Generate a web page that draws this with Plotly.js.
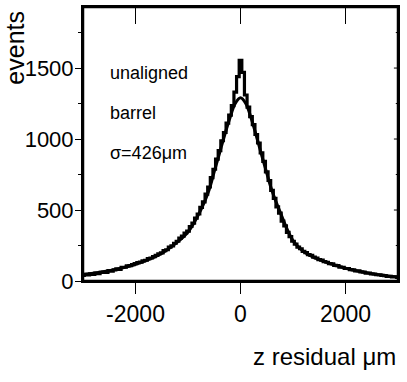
<!DOCTYPE html>
<html>
<head>
<meta charset="utf-8">
<script src="https://cdn.plot.ly/plotly-3.0.1.min.js"></script>
<style>
  html, body { margin: 0; padding: 0; background: #ffffff; }
  #plot { width: 407px; height: 382px; }
</style>
</head>
<body>
<div id="plot"></div>
<script>
// z residual histogram, 50 um bins from -3000 to 3000
const binStart = -3000;
const binWidth = 50;
const histCounts = [
    40, 47, 43, 51, 47, 56, 52, 61, 63, 60, 73, 69, 79, 85, 81, 96, 97, 106, 109, 116, 123,
    130, 133, 142, 146, 158, 162, 172, 180, 192, 198, 214, 220, 238, 248, 266, 280, 302, 316, 338, 352,
    384, 408, 443, 472, 518, 557, 612, 662, 728, 787, 858, 918, 988, 1046, 1112, 1168, 1236, 1330, 1440,
    1555,
    1470, 1310, 1225, 1158, 1102, 1032, 972, 902, 842, 768, 708, 638, 582, 522, 478, 422, 388, 342, 312,
    280, 260, 238, 227, 208, 200, 186, 180, 168, 162, 150, 147, 136, 132, 122, 120, 110, 108, 98, 97, 88,
    88, 80, 79, 72, 71, 64, 63, 56, 56, 50, 49, 44, 43, 39, 38, 33, 33, 29, 29, 25
];

// fitted curve
const fitX = [-3000, -2500, -2000, -1500, -1250, -1000, -750, -600, -500, -400, -300, -200, -100,
              0, 100, 200, 300, 400, 500, 600, 750, 1000, 1250, 1500, 2000, 2500, 3000];
const fitY = [45, 72, 118, 195, 260, 345, 505, 640, 770, 900, 1030, 1150, 1250,
              1290, 1250, 1150, 1025, 890, 760, 635, 490, 285, 195, 150, 90, 52, 28];

const xRange = [-3000, 3000];
const yRange = [0, 1930];
const yTicks = [0, 500, 1000, 1500];
const yMinorTicks = [250, 750, 1250, 1750];
const xTicks = [-2000, 0, 2000];
const xTickText = ['-2000', '0', '2000'];
const labels = ['unaligned', 'barrel', 'σ=426μm'];
const labelY = [1465, 1185, 905];

const font = '"Liberation Sans", Arial, Helvetica, sans-serif';

let data = [
    {
        x0: binStart,
        dx: binWidth,
        y: histCounts,
        type: 'scatter',
        mode: 'lines',
        line: { shape: 'hvh', color: '#000000', width: 3.2 },
        showlegend: false,
        hoverinfo: 'skip',
    },
    {
        x: fitX,
        y: fitY,
        type: 'scatter',
        mode: 'lines',
        line: { shape: 'spline', smoothing: 1, color: '#000000', width: 3 },
        showlegend: false,
        hoverinfo: 'skip',
    },
];

let annotations = labels.map((t, i) => ({
    xref: 'paper', yref: 'y',
    x: 0.08, y: labelY[i],
    xanchor: 'left', yanchor: 'middle',
    text: t,
    showarrow: false,
    font: { family: font, size: 18, color: '#000000' },
}));

annotations.push({
    xref: 'paper', yref: 'paper',
    x: -0.215, y: 0.995,
    xanchor: 'center', yanchor: 'top',
    text: 'events',
    textangle: -90,
    showarrow: false,
    font: { family: font, size: 25, color: '#000000' },
});

annotations.push({
    xref: 'paper', yref: 'paper',
    x: 1.0, y: -0.276,
    xanchor: 'right', yanchor: 'middle',
    text: 'z residual μm',
    showarrow: false,
    font: { family: font, size: 24, color: '#000000' },
});

// frame box plus the inside ticks on the top and right edges
let shapes = [
    {
        type: 'rect',
        xref: 'paper', yref: 'paper',
        x0: 0, x1: 1, y0: 0, y1: 1,
        layer: 'above',
        line: { color: '#000000', width: 2.5 },
    },
];
xTicks.forEach((v) => {
    shapes.push({
        type: 'line', xref: 'x', yref: 'paper',
        x0: v, x1: v, y0: 1, y1: 0.938,
        layer: 'above',
        line: { color: '#000000', width: 1 },
    });
});
yTicks.forEach((v) => {
    shapes.push({
        type: 'line', xref: 'paper', yref: 'y',
        x0: 1, x1: 0.987, y0: v, y1: v,
        layer: 'above',
        line: { color: '#000000', width: 1 },
    });
});
yMinorTicks.forEach((v) => {
    shapes.push({
        type: 'line', xref: 'paper', yref: 'y',
        x0: 1, x1: 0.993, y0: v, y1: v,
        layer: 'above',
        line: { color: '#000000', width: 1 },
    });
});

let layout = {
    width: 407,
    height: 382,
    margin: { l: 83, r: 9, t: 7, b: 101 },
    paper_bgcolor: '#ffffff',
    plot_bgcolor: '#ffffff',
    showlegend: false,

    xaxis: {
        range: xRange,
        tickvals: xTicks,
        ticktext: xTickText,
        ticks: 'outside',
        ticklen: 11,
        tickwidth: 1,
        tickcolor: '#000000',
        showline: true,
        mirror: true,
        linecolor: '#000000',
        linewidth: 2,
        showgrid: false,
        zeroline: false,
        tickfont: { family: font, size: 23, color: '#000000' },
    },
    yaxis: {
        range: yRange,
        tickvals: yTicks,
        ticks: 'outside',
        ticklen: 6,
        tickwidth: 1,
        tickcolor: '#000000',
        minor: { dtick: 250, ticks: 'outside', ticklen: 3, tickcolor: '#000000' },
        ticklabelstandoff: -3,
        showline: true,
        mirror: true,
        linecolor: '#000000',
        linewidth: 2,
        showgrid: false,
        zeroline: false,
        tickfont: { family: font, size: 22, color: '#000000' },
    },

    shapes: shapes,
    annotations: annotations,
};

let config = {
    staticPlot: true,
    displayModeBar: false,
};

const div = document.getElementById('plot');
Plotly.newPlot(div, data, layout, config);
</script>
</body>
</html>
